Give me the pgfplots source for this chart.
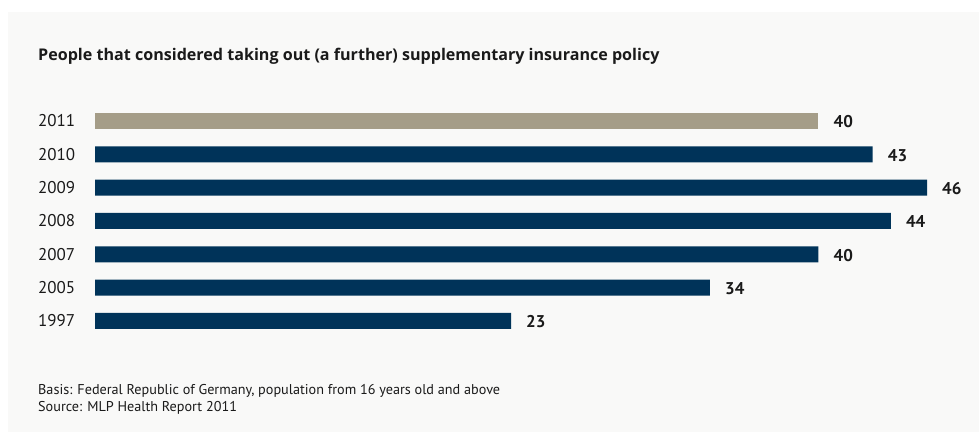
\documentclass[border=0pt]{standalone}
\usepackage{pgfplots}
\pgfplotsset{compat=1.18}
\usepackage{fontspec}
\setmainfont{PT Sans}
\newfontfamily\titlefont{Open Sans}
\definecolor{navy}{RGB}{0,51,89}
\definecolor{tan}{RGB}{165,157,136}
\definecolor{panel}{RGB}{249,249,248}
\definecolor{txt}{RGB}{26,26,26}
\begin{document}
\begin{tikzpicture}[x=1pt,y=1pt]
\fill[white] (0,0) rectangle (979,436);
\fill[panel] (8,4) rectangle (979,424);
\node[anchor=west, font=\titlefont\bfseries\fontsize{16.1}{18}\selectfont, text=txt, inner sep=0pt] at (38,379.5) {People that considered taking out (a further) supplementary insurance policy};
\node[anchor=west, font=\fontsize{14.2}{17}\selectfont, text=txt, inner sep=0pt, align=left] at (38,36.5) {Basis: Federal Republic of Germany, population from 16 years old and above\\Source: MLP Health Report 2011};
\begin{axis}[
  at={(95pt,115pt)}, anchor=origin,
  scale only axis, width=832pt, height=200pt,
  xmin=0, xmax=46, ymin=0, ymax=6,
  clip=false,
  axis line style={draw=none},
  xtick=\empty,
  ytick={0,1,2,3,4,5,6},
  yticklabels={1997,2005,2007,2008,2009,2010,2011},
  major tick length=0pt,
  /pgf/number format/assume math mode=true,
  yticklabel style={anchor=west, xshift=-57pt, inner sep=0pt, font=\fontsize{17}{19}\selectfont, text=txt},
  xbar, bar width=16pt, bar shift=0pt,
  nodes near coords,
  every node near coord/.append style={anchor=west, inner sep=0pt, xshift=15pt, yshift=-1pt, font=\bfseries\fontsize{17}{19}\selectfont, text=txt},
]
\addplot[fill=navy, draw=none] coordinates {(23,0) (34,1) (40,2) (44,3) (46,4) (43,5)};
\addplot[fill=tan, draw=none] coordinates {(40,6)};
\end{axis}
\end{tikzpicture}
\end{document}
